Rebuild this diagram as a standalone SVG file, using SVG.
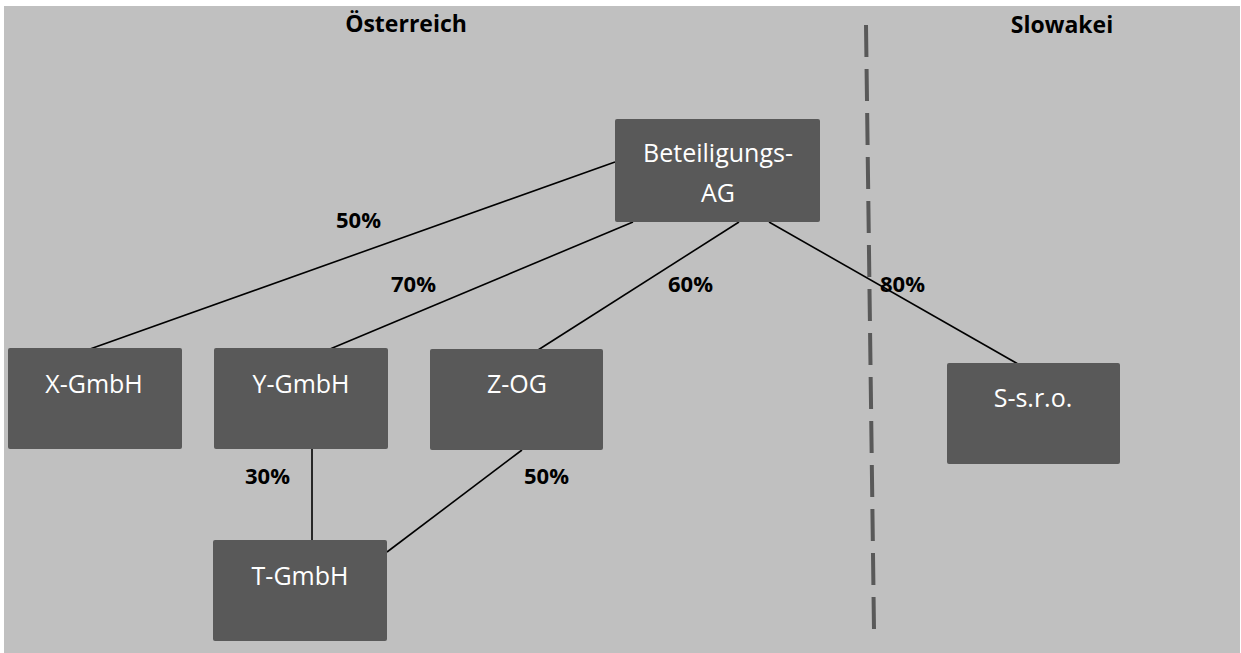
<svg xmlns="http://www.w3.org/2000/svg" width="1241" height="653" viewBox="0 0 1241 653">
<style>
.box{fill:#595959;}
.nt{font-family:"Open Sans","Liberation Sans",sans-serif;font-size:25px;fill:#ffffff;text-anchor:middle;}
.lbl{font-family:"Open Sans","Liberation Sans",sans-serif;font-size:22px;font-weight:bold;fill:#000000;}
.hd{font-family:"Open Sans","Liberation Sans",sans-serif;font-size:23px;font-weight:bold;fill:#000000;text-anchor:middle;}
.ln{stroke:#000000;stroke-width:1.6;fill:none;}
</style>
<rect x="0" y="0" width="1241" height="653" fill="#ffffff"/>
<rect x="4" y="6" width="1236" height="647" fill="#c0c0c0"/>
<text class="hd" x="406" y="32">Österreich</text>
<text class="hd" x="1062" y="33">Slowakei</text>
<line x1="866" y1="25" x2="874" y2="630" stroke="#595959" stroke-width="4" stroke-dasharray="32 12"/>
<g id="connectors">
<line class="ln" x1="615" y1="162" x2="90" y2="349"/>
<line class="ln" x1="633" y1="222" x2="330" y2="349"/>
<line class="ln" x1="739" y1="222" x2="538" y2="350"/>
<line class="ln" x1="769" y1="222" x2="1018" y2="364"/>
<line class="ln" x1="312" y1="449" x2="312" y2="541"/>
<line class="ln" x1="522" y1="450" x2="387" y2="552"/>
</g>
<g id="labels">
<text class="lbl" x="336" y="228">50%</text>
<text class="lbl" x="391" y="292">70%</text>
<text class="lbl" x="668" y="292">60%</text>
<text class="lbl" x="880" y="292">80%</text>
<text class="lbl" x="245" y="484">30%</text>
<text class="lbl" x="524" y="484">50%</text>
</g>
<g id="beteiligungs-ag">
<rect class="box" x="615" y="119" width="205" height="103" rx="2"/>
<text class="nt" x="718" y="162">Beteiligungs-</text>
<text class="nt" x="718" y="202">AG</text>
</g>
<g id="x-gmbh">
<rect class="box" x="8" y="348" width="174" height="101" rx="2"/>
<text class="nt" x="94" y="393">X-GmbH</text>
</g>
<g id="y-gmbh">
<rect class="box" x="214" y="348" width="174" height="101" rx="2"/>
<text class="nt" x="301" y="393">Y-GmbH</text>
</g>
<g id="z-og">
<rect class="box" x="430" y="349" width="173" height="101" rx="2"/>
<text class="nt" x="517" y="393">Z-OG</text>
</g>
<g id="s-sro">
<rect class="box" x="947" y="363" width="173" height="101" rx="2"/>
<text class="nt" x="1033" y="407">S-s.r.o.</text>
</g>
<g id="t-gmbh">
<rect class="box" x="213" y="540" width="174" height="101" rx="2"/>
<text class="nt" x="300" y="585">T-GmbH</text>
</g>
</svg>
